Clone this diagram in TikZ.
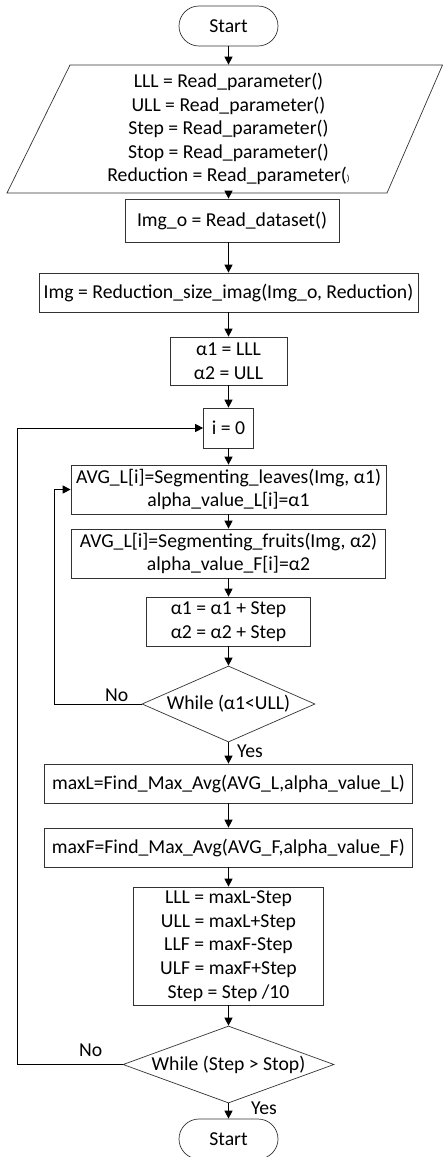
\documentclass[tikz,border=0pt]{standalone}
\usepackage{fontspec}
\setmainfont{Carlito}
\usetikzlibrary{arrows.meta,shapes.geometric}
\newcommand\flowfont{\fontsize{19.7}{23.6}\selectfont}
\begin{document}
\begin{tikzpicture}[x=1pt,y=-1pt,
  box/.style={draw=black!80, line width=0.7pt, rectangle, inner sep=0pt, align=center, font=\flowfont},
  term/.style={box, rounded corners=20pt, minimum width=99pt, minimum height=40pt},
  dec/.style={draw=black!80, line width=0.7pt, diamond, inner sep=0pt},
  arr/.style={-{Triangle[length=8pt,width=8pt]}, line width=1pt},
  lbl/.style={font=\flowfont, inner sep=0pt}
]
\useasboundingbox (0,0) rectangle (443,1157);
\fill[white] (0,0) rectangle (443,1157);

\node[term] (start) at (228.5,26) {Start};

\draw[draw=black!80, line width=0.7pt] (70,65) -- (442.5,65) -- (387,193) -- (7,193) -- cycle;
\node[box, draw=none, minimum width=300pt, minimum height=128pt] (in) at (228.5,129)
  {LLL = Read\_parameter()\\ULL = Read\_parameter()\\Step = Read\_parameter()\\Stop = Read\_parameter()\\Reduction = Read\_parameter({\fontsize{9}{9}\selectfont)}};

\node[box, minimum width=214pt, minimum height=43pt] (imgo) at (232,220.5) {Img\_o = Read\_dataset()};
\node[box, minimum width=379pt, minimum height=39pt] (img) at (228.5,292.5) {Img = Reduction\_size\_imag(Img\_o, Reduction)};
\node[box, minimum width=117pt, minimum height=48pt] (alpha) at (228.5,361) {α1 = LLL\\α2 = ULL};
\node[box, minimum width=50pt, minimum height=40pt] (i0) at (228.5,428) {i = 0};
\node[box, minimum width=315pt, minimum height=49pt] (leaves) at (228.5,489.5) {AVG\_L[i]=Segmenting\_leaves(Img, α1)\\alpha\_value\_L[i]=α1};
\node[box, minimum width=314pt, minimum height=49pt] (fruits) at (228.5,553.5) {AVG\_L[i]=Segmenting\_fruits(Img, α2)\\alpha\_value\_F[i]=α2};
\node[box, minimum width=164pt, minimum height=49pt] (stp) at (228.5,621.5) {α1 = α1 + Step\\α2 = α2 + Step};
\node[dec, minimum width=173pt, minimum height=76pt, label={[lbl]center:While (α1<ULL)}] (d1) at (228.5,704) {};
\node[box, minimum width=368pt, minimum height=39pt] (maxl) at (228.5,783.5) {maxL=Find\_Max\_Avg(AVG\_L,alpha\_value\_L)};
\node[box, minimum width=368pt, minimum height=39pt] (maxf) at (228.5,847.5) {maxF=Find\_Max\_Avg(AVG\_F,alpha\_value\_F)};
\node[box, minimum width=190pt, minimum height=118pt] (upd) at (228.5,946) {LLL = maxL-Step\\ULL = maxL+Step\\LLF = maxF-Step\\ULF = maxF+Step\\Step = Step /10};
\node[dec, minimum width=211pt, minimum height=77pt, label={[lbl]center:While (Step > Stop)}] (d2) at (228.5,1064.5) {};
\node[term] (stop) at (228.5,1139) {Start};

\draw[arr] (start) -- (in.north);
\draw[arr] (in.south) -- (in.south |- imgo.north);
\draw[arr] (imgo.south -| img.north) -- (img.north);
\draw[arr] (img) -- (alpha);
\draw[arr] (alpha) -- (i0);
\draw[arr] (i0) -- (leaves);
\draw[arr] (leaves) -- (fruits);
\draw[arr] (fruits) -- (stp);
\draw[arr] (stp) -- (d1);
\draw[arr] (d1) -- (maxl);
\draw[arr] (maxl) -- (maxf);
\draw[arr] (maxf) -- (upd);
\draw[arr] (upd) -- (d2);
\draw[arr] (d2) -- (stop);

\coordinate (c1) at (54,704);
\coordinate (c2) at (17,1064.5);
\draw[arr] (d1.west) -- (c1) |- (leaves.west);
\draw[arr] (d2.west) -- (c2) |- (i0.west);

\node[lbl, anchor=north west] (no1) at (105,689) {No};
\node[lbl, anchor=north west] (yes1) at (237,745) {Yes};
\node[lbl, anchor=north west] (no2) at (79,1044) {No};
\node[lbl, anchor=north west] (yes2) at (251,1102) {Yes};
\end{tikzpicture}
\end{document}
